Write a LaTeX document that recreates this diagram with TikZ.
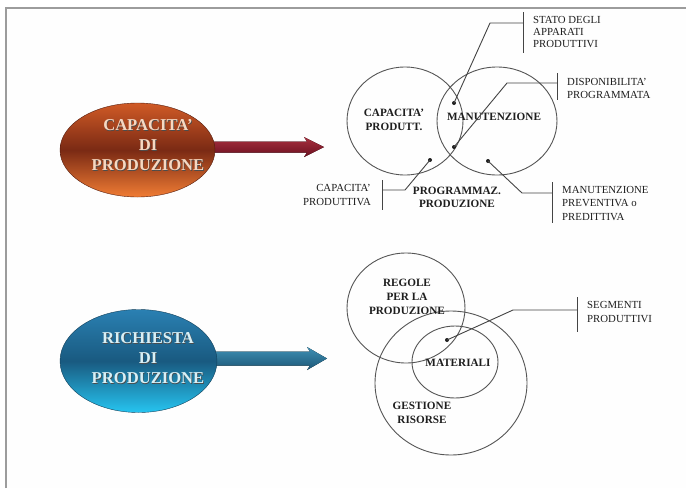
\documentclass[tikz,border=0pt]{standalone}
\usepackage{fontspec}
\setmainfont{Liberation Serif}
\usetikzlibrary{shapes.geometric,calc}
\definecolor{framegray}{HTML}{9C9C9C}
\definecolor{ringgray}{HTML}{555555}
\definecolor{inkdark}{HTML}{1E1E1E}
\definecolor{orangetop}{HTML}{D05A26}
\definecolor{orangemid}{HTML}{7A2A14}
\definecolor{orangebot}{HTML}{F07C34}
\definecolor{bluetop}{HTML}{2A80B2}
\definecolor{bluemid}{HTML}{195A80}
\definecolor{bluebot}{HTML}{26C4F0}
\definecolor{redtop}{HTML}{A8303E}
\definecolor{redbot}{HTML}{6A1020}
\definecolor{tealtop}{HTML}{3E90B4}
\definecolor{tealbot}{HTML}{1C5676}
\definecolor{peach}{HTML}{F6D8C2}
\definecolor{icewhite}{HTML}{D8F0F6}
\begin{document}
\begin{tikzpicture}[x=1pt,y=-1pt,
  ring/.style={draw=ringgray, line width=0.9pt, ellipse, inner sep=0pt},
  leader/.style={draw=ringgray!80!black, line width=0.9pt},
  dot/.style={circle, fill=inkdark, inner sep=0pt, minimum size=4pt},
  ringtext/.style={text=inkdark, align=center, font=\bfseries\fontsize{11.2}{14}\selectfont, inner sep=0pt},
  lbl/.style={text=inkdark, align=left, font=\fontsize{10.8}{13}\selectfont, inner sep=0pt},
  bigtext/.style={align=center, font=\bfseries\fontsize{16.6}{20}\selectfont, inner sep=0pt},
]
\useasboundingbox (0,0) rectangle (686,488);
\fill[white] (0,0) rectangle (686,488);
\fill[white!99!gray] (7,9) rectangle (686,488);

% page frame (top and left edges only)
\draw[framegray, line width=2.6pt] (6,488) -- (6,8) -- (686,8);

% ---- upper block: production capacity ----
\coordinate (capstart) at (205,147);
\coordinate (captip) at (324,147);
\fill[top color=redtop, bottom color=redbot]
  ($(capstart)+(0,-5.5)$) -- (307,141.5) -- (304,137) -- (captip) -- (304,157) -- (307,152.5) -- ($(capstart)+(0,5.5)$) -- cycle;
\node[ellipse, minimum width=155pt, minimum height=94pt, inner sep=0pt,
      top color=orangetop, bottom color=orangebot, middle color=orangemid,
      draw=orangemid!70!black, line width=0.4pt] (cap) at (137.5,150) {};
\node[bigtext, text=black!70] at (148.7,145.7) {CAPACITA'\\DI\hspace*{16pt}\\PRODUZIONE};
\node[bigtext, text=peach] at (148,145) {CAPACITA'\\DI\hspace*{16pt}\\PRODUZIONE};

\node[ring, minimum width=116pt, minimum height=108pt] (cprod) at (405,121) {};
\node[ring, minimum width=120pt, minimum height=108pt] (manut) at (497,121) {};
\node[ringtext] at (394,119.5) {CAPACITA'\\PRODUTT.};
\node[ringtext] at (494,117) {MANUTENZIONE};
\node[ringtext, font=\bfseries\fontsize{11.2}{13}\selectfont] at (457,197) {PROGRAMMAZ.\\PRODUZIONE};

\node[dot] (d1) at (454,103) {};
\node[dot] (d2) at (454,147) {};
\node[dot] (d3) at (430,160) {};
\node[dot] (d4) at (488,161) {};

% leader to STATO DEGLI APPARATI PRODUTTIVI
\coordinate (k1) at (490,23);
\coordinate (t1) at (523,12); \coordinate (u1) at (523,53);
\draw[leader] (d1.center) -- (k1) -- (k1 -| t1);
\draw[leader] (t1) -- (u1);
\node[lbl, anchor=west, font=\fontsize{10.8}{11.8}\selectfont] at (533,32) {STATO DEGLI\\APPARATI\\PRODUTTIVI};

% leader to DISPONIBILITA' PROGRAMMATA
\coordinate (k2) at (507,83);
\coordinate (t2) at (557,73); \coordinate (u2) at (557,100);
\draw[leader] (d2.center) -- (k2) -- (k2 -| t2);
\draw[leader] (t2) -- (u2);
\node[lbl, anchor=west] at (567,88) {DISPONIBILITA'\\PROGRAMMATA};

% leader to CAPACITA' PRODUTTIVA
\coordinate (k3) at (405,190);
\coordinate (t3) at (382,180); \coordinate (u3) at (382,210);
\draw[leader] (d3.center) -- (k3) -- (k3 -| t3);
\draw[leader] (t3) -- (u3);
\node[lbl, anchor=east, align=right, font=\fontsize{10.8}{14}\selectfont] at (371,195) {CAPACITA'\\PRODUTTIVA};

% leader to MANUTENZIONE PREVENTIVA o PREDITTIVA
\coordinate (k4) at (522,193);
\coordinate (t4) at (552,182); \coordinate (u4) at (552,223);
\draw[leader] (d4.center) -- (k4) -- (k4 -| t4);
\draw[leader] (t4) -- (u4);
\node[lbl, anchor=west, font=\fontsize{10.8}{13.5}\selectfont] at (562,203.5) {MANUTENZIONE\\PREVENTIVA o\\PREDITTIVA};

% ---- lower block: production demand ----
\coordinate (reqstart) at (205,358.5);
\coordinate (reqtip) at (327,358.5);
\fill[top color=tealtop, bottom color=tealbot]
  ($(reqstart)+(0,-7)$) -- (310,351.5) -- (307,347) -- (reqtip) -- (307,370) -- (310,365.5) -- ($(reqstart)+(0,7)$) -- cycle;
\node[ellipse, minimum width=157pt, minimum height=103pt, inner sep=0pt,
      top color=bluetop, bottom color=bluebot, middle color=bluemid,
      draw=bluemid!70!black, line width=0.4pt] (req) at (138.5,361) {};
\node[bigtext, text=black!70] at (148.7,358.7) {RICHIESTA\\DI\hspace*{16pt}\\PRODUZIONE};
\node[bigtext, text=icewhite] at (148,358) {RICHIESTA\\DI\hspace*{16pt}\\PRODUZIONE};

\node[ring, minimum width=118pt, minimum height=110pt] (rules) at (406,308) {};
\node[ring, minimum width=152pt, minimum height=144pt] (resources) at (451,383) {};
\node[ring, minimum width=86pt, minimum height=72pt] (materials) at (455,362) {};
\node[ringtext] at (407,297) {REGOLE\\PER LA\\PRODUZIONE};
\node[ringtext] at (458,363) {MATERIALI};
\node[ringtext] at (422,412.5) {GESTIONE\\RISORSE};

\node[dot] (d5) at (447,340) {};
\coordinate (k5) at (513,310);
\coordinate (t5) at (577,297); \coordinate (u5) at (577,332);
\draw[leader] (d5.center) -- (k5) -- (k5 -| t5);
\draw[leader] (t5) -- (u5);
\node[lbl, anchor=west, font=\fontsize{10.8}{14}\selectfont] at (587,312.5) {SEGMENTI\\PRODUTTIVI};
\end{tikzpicture}
\end{document}
